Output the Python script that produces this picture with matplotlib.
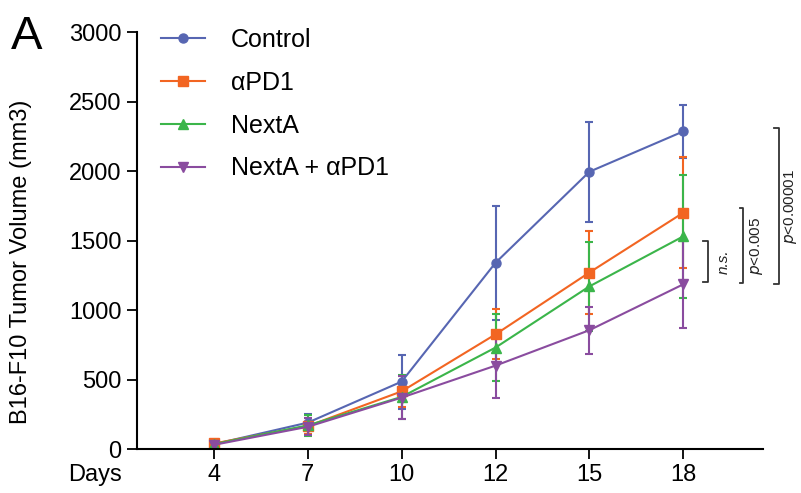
import matplotlib
matplotlib.use('Agg')
import matplotlib.pyplot as plt
from matplotlib.lines import Line2D
import numpy as np

plt.rcParams['font.family'] = ['Liberation Sans', 'DejaVu Sans']

days = ['4', '7', '10', '12', '15', '18']
groups = ['Control', '\u03b1PD1', 'NextA', 'NextA + \u03b1PD1']
control = [35, 190, 485, 1340, 1995, 2285]
control_err = [20, 60, 195, 410, 360, 190]
apd1 = [40, 165, 415, 825, 1270, 1700]
apd1_err = [20, 55, 113, 180, 300, 400]
nexta = [35, 170, 375, 730, 1170, 1530]
nexta_err = [20, 75, 160, 243, 320, 440]
combo = [30, 160, 370, 600, 855, 1185]
combo_err = [15, 60, 155, 230, 170, 315]

colors = ['#5766b2', '#f26522', '#3bb54a', '#8a4c9f']
markers = ['o', 's', '^', 'v']

fig = plt.figure(figsize=(8.01, 4.93), dpi=100)
ax = fig.add_axes([0.171, 0.0892, 0.7816, 0.8458])

x = np.arange(len(days))
series = [(control, control_err), (apd1, apd1_err), (nexta, nexta_err), (combo, combo_err)]
handles = []
for (vals, errs), name, c, m in zip(series, groups, colors, markers):
    ax.errorbar(x, vals, yerr=errs, color=c, marker=m, markersize=6.5, lw=1.5,
                elinewidth=1.5, capsize=3, capthick=1.5)
    handles.append(Line2D([], [], color=c, marker=m, markersize=6.5, lw=1.5, label=name))

ax.set_xlim(-0.82, 5.85)
ax.set_ylim(0, 3000)
ax.set_xticks(x)
ax.set_xticklabels(days)
ax.set_yticks(range(0, 3001, 500))
ax.tick_params(labelsize=17, length=7, width=1.3, pad=4)
for s in ['top', 'right']:
    ax.spines[s].set_visible(False)
for s in ['left', 'bottom']:
    ax.spines[s].set_linewidth(1.5)
ax.set_ylabel('B16-F10 Tumor Volume (mm3)', fontsize=17)
ax.yaxis.set_label_coords(-0.168, 0.448)

ax.legend(handles=handles, loc='upper left', bbox_to_anchor=(0.195, 0.953),
          bbox_transform=fig.transFigure, frameon=False, fontsize=18,
          handlelength=1.75, handletextpad=1.05, labelspacing=0.75,
          borderaxespad=0, borderpad=0.2)

# significance brackets
brackets = [(5.21, 5.26, 1201, 1496, 5.43, 'n.s.'),
            (5.60, 5.64, 1194, 1734, 5.78, 'p<0.005'),
            (5.97, 6.02, 1187, 2309, 6.14, 'p<0.00001')]
for x0, x1, y0, y1, tx, lab in brackets:
    ax.plot([x0, x1, x1, x0], [y0, y0, y1, y1], color='#333333', lw=1.3, clip_on=False)
    if lab == 'n.s.':
        ax.text(tx, (y0 + y1) / 2, lab, rotation=90, ha='center', va='center',
                fontsize=11, style='italic', color='#222222', clip_on=False)
    else:
        ax.text(tx, (y0 + y1) / 2, r'$\it{p}$' + lab[1:], rotation=90, ha='center',
                va='center', fontsize=11, color='#222222', clip_on=False)

fig.text(0.118, 0.036, 'Days', fontsize=17, ha='center', va='center')
fig.text(0.033, 0.925, 'A', fontsize=34, ha='center', va='center')

fig.savefig('out.png', dpi=100)
